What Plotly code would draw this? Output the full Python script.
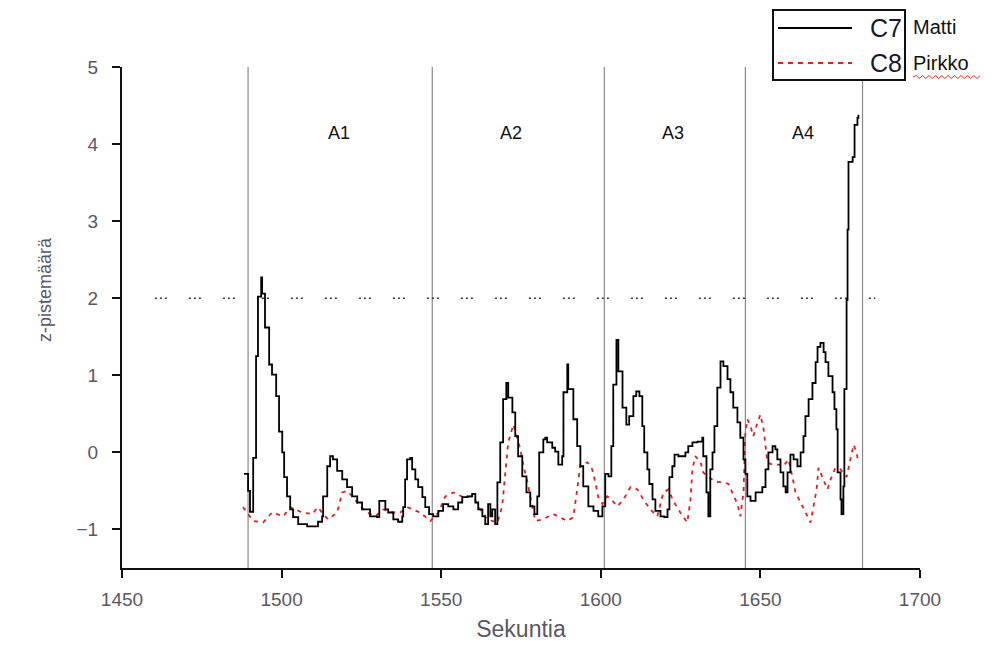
import plotly.graph_objects as go

# ---- data ----
c7_t = [1488.2, 1489.5, 1490.1, 1491.1, 1492.0, 1492.6, 1493.6, 1493.9, 1494.8, 1496.1,
        1497.0, 1498.3, 1499.2, 1500.2, 1500.8, 1501.7, 1502.7, 1503.6, 1505.2, 1508.0,
        1509.9, 1511.4, 1512.7, 1513.0, 1514.3, 1515.2, 1516.1, 1517.4, 1519.0, 1520.5,
        1522.1, 1523.7, 1525.2, 1527.7, 1529.9, 1530.6, 1531.8, 1532.5, 1533.4, 1535.0,
        1536.5, 1537.8, 1538.1, 1538.7, 1539.3, 1540.3, 1540.9, 1541.9, 1542.8, 1544.1,
        1545.0, 1546.2, 1547.5, 1548.1, 1549.1, 1550.6, 1552.2, 1553.8, 1555.3, 1556.6,
        1558.2, 1559.7, 1560.7, 1561.6, 1562.9, 1563.8, 1564.7, 1565.4, 1566.0, 1566.9,
        1567.6, 1568.5, 1569.4, 1570.4, 1571.0, 1572.3, 1573.2, 1574.1, 1575.4, 1576.7,
        1577.9, 1579.2, 1580.1, 1580.7, 1582.0, 1582.6, 1583.2, 1584.8, 1585.7, 1586.7,
        1587.9, 1588.3, 1589.5, 1589.8, 1591.4, 1592.6, 1593.6, 1594.5, 1596.1, 1597.7,
        1599.2, 1600.5, 1601.4, 1602.4, 1603.3, 1603.9, 1604.9, 1605.5, 1606.8, 1608.0,
        1608.9, 1610.2, 1611.1, 1612.1, 1613.0, 1613.6, 1614.6, 1615.2, 1616.2, 1617.1,
        1618.7, 1619.9, 1620.9, 1621.5, 1622.4, 1623.1, 1624.3, 1626.5, 1627.4, 1628.7,
        1630.3, 1631.8, 1632.1, 1633.1, 1633.7, 1634.3, 1635.0, 1635.6, 1636.5, 1637.5,
        1638.4, 1639.7, 1640.6, 1641.5, 1642.8, 1643.7, 1644.7, 1645.3, 1645.9, 1646.9,
        1647.5, 1648.5, 1650.0, 1650.6, 1651.6, 1652.5, 1653.8, 1654.7, 1655.3, 1656.3,
        1657.2, 1657.9, 1658.5, 1659.4, 1660.4, 1661.6, 1662.6, 1663.5, 1664.1, 1665.1,
        1666.3, 1667.3, 1667.9, 1668.8, 1669.8, 1670.4, 1671.3, 1672.6, 1673.2, 1673.8,
        1674.2, 1675.1, 1675.4, 1676.0, 1676.3, 1677.0, 1677.3, 1677.6, 1678.9, 1679.5,
        1680.4, 1680.7]
c7_z = [-0.28, -0.5, -0.77, -0.07, 1.25, 2.02, 2.27, 2.06, 1.62, 1.14,
        1.01, 0.73, 0.27, 0.0, -0.32, -0.57, -0.74, -0.84, -0.93, -0.96,
        -0.96, -0.9, -0.83, -0.57, -0.18, -0.05, -0.09, -0.24, -0.35, -0.45,
        -0.57, -0.65, -0.74, -0.83, -0.84, -0.63, -0.63, -0.74, -0.78, -0.87,
        -0.9, -0.83, -0.71, -0.35, -0.09, -0.07, -0.22, -0.35, -0.45, -0.58,
        -0.71, -0.8, -0.83, -0.83, -0.76, -0.67, -0.7, -0.74, -0.65, -0.58,
        -0.57, -0.54, -0.65, -0.74, -0.83, -0.93, -0.67, -0.83, -0.74, -0.93,
        -0.39, 0.13, 0.69, 0.9, 0.71, 0.52, 0.21, -0.05, -0.31, -0.52,
        -0.7, -0.8, -0.57, 0.0, 0.17, 0.19, 0.13, 0.06, 0.01, -0.16,
        -0.05, 0.78, 1.14, 0.82, 0.43, 0.08, -0.18, -0.44, -0.7, -0.76,
        -0.83, -0.7, -0.28, -0.31, 0.08, 0.88, 1.46, 1.05, 0.58, 0.36,
        0.47, 0.73, 0.79, 0.73, 0.34, 0.0, -0.22, -0.41, -0.61, -0.76,
        -0.83, -0.84, -0.74, -0.32, -0.18, -0.03, -0.05, 0.0, 0.08, 0.13,
        0.14, 0.19, -0.05, -0.52, -0.83, -0.22, 0.0, 0.34, 0.84, 1.18,
        1.12, 0.95, 0.78, 0.58, 0.39, 0.19, -0.09, -0.28, -0.57, -0.63,
        -0.63, -0.52, -0.52, -0.45, -0.22, 0.0, 0.08, 0.04, -0.09, -0.26,
        -0.44, -0.52, -0.26, -0.03, -0.09, -0.18, 0.0, 0.21, 0.47, 0.69,
        0.9, 1.17, 1.37, 1.42, 1.3, 1.17, 0.99, 0.78, 0.56, 0.3,
        -0.26, -0.61, -0.8, -0.44, 0.82, 1.98, 2.89, 3.77, 3.83, 4.25,
        4.34, 4.38]

c8_t = [1487.9, 1491.1, 1494.2, 1497.0, 1500.5, 1502.7, 1506.4, 1509.6, 1511.4, 1513.0,
        1514.6, 1517.4, 1519.0, 1520.5, 1522.4, 1524.6, 1526.8, 1529.3, 1531.8, 1535.0,
        1537.2, 1539.3, 1543.4, 1546.6, 1549.1, 1551.3, 1553.8, 1556.9, 1560.0, 1562.2,
        1564.4, 1567.6, 1569.1, 1570.1, 1571.0, 1572.6, 1573.8, 1574.8, 1575.7, 1577.0,
        1578.5, 1579.5, 1581.7, 1585.1, 1589.5, 1591.4, 1592.6, 1593.6, 1595.8, 1597.3,
        1598.3, 1599.2, 1600.5, 1602.0, 1603.0, 1605.2, 1607.1, 1609.3, 1611.5, 1613.3,
        1615.5, 1617.7, 1618.7, 1619.6, 1621.2, 1622.7, 1624.9, 1627.1, 1628.1, 1628.7,
        1629.6, 1631.2, 1632.1, 1633.7, 1635.9, 1638.4, 1640.0, 1641.5, 1642.8, 1643.7,
        1644.7, 1645.3, 1645.9, 1646.9, 1647.8, 1649.1, 1650.0, 1651.0, 1651.6, 1652.2,
        1653.8, 1655.7, 1657.2, 1658.8, 1660.0, 1661.0, 1662.6, 1664.1, 1665.7, 1666.6,
        1667.6, 1668.2, 1669.8, 1671.0, 1672.0, 1673.5, 1675.1, 1677.0, 1678.2, 1679.2,
        1680.1, 1680.7]
c8_z = [-0.71, -0.89, -0.91, -0.78, -0.83, -0.71, -0.78, -0.8, -0.71, -0.8,
        -0.87, -0.78, -0.52, -0.5, -0.58, -0.7, -0.78, -0.83, -0.74, -0.78,
        -0.78, -0.71, -0.78, -0.89, -0.78, -0.57, -0.52, -0.58, -0.57, -0.74,
        -0.87, -0.91, -0.7, -0.26, 0.13, 0.36, 0.19, 0.04, -0.16, -0.38,
        -0.7, -0.89, -0.87, -0.8, -0.89, -0.84, -0.48, -0.16, -0.13, -0.22,
        -0.39, -0.58, -0.67, -0.57, -0.6, -0.7, -0.61, -0.45, -0.48, -0.61,
        -0.74, -0.83, -0.67, -0.52, -0.48, -0.63, -0.78, -0.91, -0.61, -0.22,
        -0.05, -0.12, -0.26, -0.32, -0.38, -0.39, -0.41, -0.54, -0.67, -0.83,
        -0.52, 0.26, 0.43, 0.34, 0.21, 0.39, 0.49, 0.3, 0.04, -0.13,
        -0.16, -0.16, -0.18, -0.09, -0.31, -0.52, -0.65, -0.78, -0.91, -0.71,
        -0.48, -0.2, -0.35, -0.48, -0.35, -0.2, -0.22, -0.32, -0.09, 0.1,
        0.0, -0.13]

section_bounds = [1489.5, 1547.2, 1601.1, 1645.3, 1682.0]
section_labels = ["A1", "A2", "A3", "A4"]
section_label_x = [1518.0, 1572.0, 1622.7, 1663.5]
threshold = 2.0
threshold_span = [1460.3, 1686.0]

x_ticks = [1450, 1500, 1550, 1600, 1650, 1700]
y_ticks = [-1, 0, 1, 2, 3, 4, 5]

FONT = "Liberation Sans, Arial, sans-serif"
GRAY = "#5c5862"

OFF = 8  # body margin of the page
PL, PR, PT, PB = 122, 920, 67, 568  # plot area in page pixels

fig = go.Figure()

fig.add_trace(go.Scatter(x=threshold_span, y=[threshold, threshold], mode="lines",
                         line=dict(color="#333333", width=1.5,
                                   dash="2px,3px,2px,3px,2px,22px"),
                         hoverinfo="skip", showlegend=False))
fig.add_trace(go.Scatter(x=c8_t, y=c8_z, mode="lines", name="C8",
                         line=dict(color="#e02020", width=1.8, dash="4px,5px"),
                         showlegend=False))
fig.add_trace(go.Scatter(x=c7_t, y=c7_z, mode="lines", name="C7",
                         line=dict(color="#000000", width=1.8, shape="hv"),
                         showlegend=False))

shapes = []
for b in section_bounds:
    shapes.append(dict(type="line", xref="x", yref="paper", x0=b, x1=b, y0=0, y1=1,
                       line=dict(color="#8a8a8a", width=1.2), layer="below"))


def px(xp):
    return (xp - PL) / float(PR - PL)


def py(yp):
    return (PB - yp) / float(PB - PT)


shapes.append(dict(type="rect", xref="paper", yref="paper",
                   x0=px(773), x1=px(905), y0=py(80), y1=py(10),
                   line=dict(color="#111111", width=2), fillcolor="white", layer="above"))
shapes.append(dict(type="line", xref="paper", yref="paper",
                   x0=px(778), x1=px(852), y0=py(28), y1=py(28),
                   line=dict(color="#000000", width=1.8)))
shapes.append(dict(type="line", xref="paper", yref="paper",
                   x0=px(778), x1=px(852), y0=py(63), y1=py(63),
                   line=dict(color="#e02020", width=1.8, dash="5px,5px")))
wave = "M {:.4f},{:.4f}".format(px(913), py(77))
for i in range(1, 22):
    xx = 913 + i * 3.2
    yy = 75.5 if i % 2 else 78.5
    wave += " L {:.4f},{:.4f}".format(px(xx), py(yy))
shapes.append(dict(type="path", xref="paper", yref="paper", path=wave,
                   line=dict(color="#e03030", width=1)))

annotations = []
for lab, lx in zip(section_labels, section_label_x):
    annotations.append(dict(x=lx, y=4.15, xref="x", yref="y", text=lab, showarrow=False,
                            xanchor="center", yanchor="middle",
                            font=dict(family=FONT, size=18, color="#111111")))
for txt, yy in (("C7", 28), ("C8", 63)):
    annotations.append(dict(x=px(886), y=py(yy), xref="paper", yref="paper", text=txt,
                            xanchor="center", yanchor="middle", showarrow=False,
                            font=dict(family=FONT, size=25, color="#1a1a2a")))
for txt, yy in (("Matti", 27), ("Pirkko", 63)):
    annotations.append(dict(x=px(911), y=py(yy), xref="paper", yref="paper", text=txt,
                            xanchor="left", yanchor="middle", showarrow=False,
                            font=dict(family=FONT, size=20, color="#111111")))
annotations.append(dict(x=px(45), y=py(290), xref="paper", yref="paper",
                        text="z-pistemäärä", textangle=-90, showarrow=False,
                        xanchor="center", yanchor="middle",
                        font=dict(family=FONT, size=18, color=GRAY)))

fig.update_layout(
    width=1005, height=650,
    margin=dict(l=PL - OFF, r=1005 - (PR - OFF), t=PT - OFF, b=650 - (PB - OFF)),
    plot_bgcolor="white", paper_bgcolor="white",
    shapes=shapes, annotations=annotations,
    font=dict(family=FONT, color=GRAY),
    xaxis=dict(range=[1450, 1700], tickvals=x_ticks, showgrid=False, zeroline=False,
               showline=True, linecolor="#111111", linewidth=2, ticks="outside",
               ticklen=8, tickcolor="#111111", tickwidth=1.5, ticklabelstandoff=5,
               tickfont=dict(family=FONT, size=19, color=GRAY),
               title=dict(text="Sekuntia", font=dict(family=FONT, size=23, color=GRAY),
                          standoff=12)),
    yaxis=dict(range=[-1.5, 5], tickvals=y_ticks, showgrid=False, zeroline=False,
               showline=True, linecolor="#111111", linewidth=2, ticks="outside",
               ticklen=8, tickcolor="#111111", tickwidth=1.5, ticklabelstandoff=10,
               tickfont=dict(family=FONT, size=19, color=GRAY)),
)

fig.write_html("out.html")
